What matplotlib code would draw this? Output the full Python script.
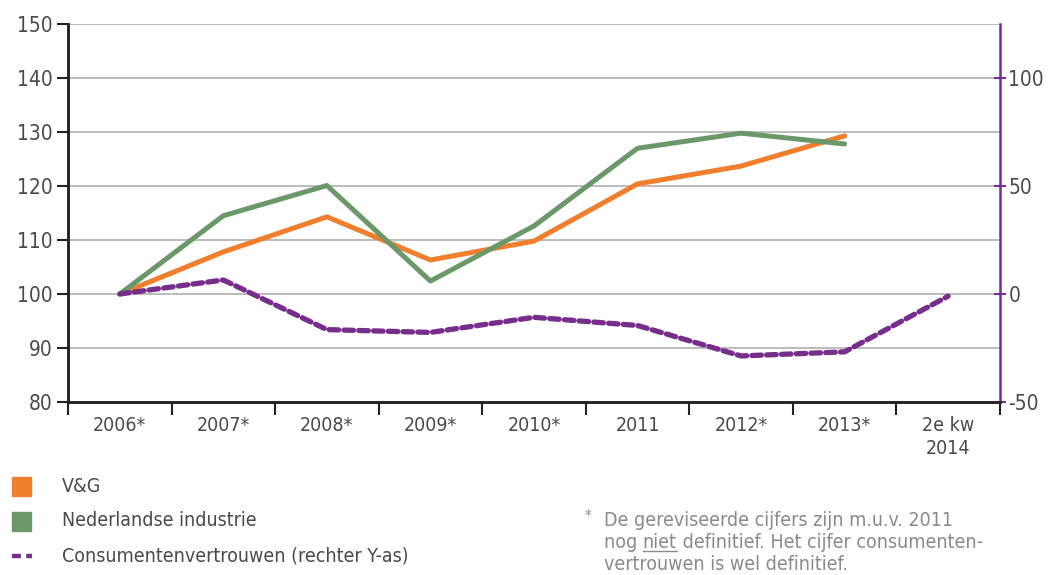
import matplotlib.pyplot as plt
from matplotlib.lines import Line2D
from matplotlib.patches import Rectangle
from matplotlib.ticker import FixedLocator, NullFormatter

plt.rcParams['font.family'] = ['DejaVu Sans']
plt.rcParams['font.stretch'] = 'condensed'
plt.rcParams['axes.unicode_minus'] = False

categories = ['2006*', '2007*', '2008*', '2009*', '2010*', '2011', '2012*', '2013*', '2e kw\n2014']
vg = [100, 107.8, 114.3, 106.3, 109.8, 120.4, 123.7, 129.3]
industrie = [100, 114.5, 120.1, 102.4, 112.6, 127.0, 129.8, 127.8]
consument = [0, 6.5, -16.5, -17.8, -10.8, -14.6, -28.7, -26.8, -1]

orange = '#ef7f2d'
green = '#6a9868'
purple = '#772d8b'
txt = '#4a4a4a'
note = '#8a8a8a'

fig = plt.figure(figsize=(10.53, 5.75), dpi=100)
ax = fig.add_axes([0.0646, 0.301, 0.885, 0.657])
ax2 = ax.twinx()

x = list(range(len(categories)))
ax.plot(x[:len(vg)], vg, color=orange, lw=3.6, solid_capstyle='round', solid_joinstyle='round', zorder=3)
ax.plot(x[:len(industrie)], industrie, color=green, lw=3.6, solid_capstyle='round', solid_joinstyle='round', zorder=3)
ax2.plot(x, consument, color=purple, lw=3.8, ls=(0, (1.8, 1.0)), dash_capstyle='round', solid_joinstyle='round')

ax.set_xlim(-0.5, len(categories) - 0.5)
ax.set_ylim(80, 150)
ax.set_yticks(range(80, 151, 10))
ax.yaxis.grid(True, color='#b0b0b0', lw=1.2)
ax.set_axisbelow(True)
ax2.set_ylim(-50, 125)
ax2.set_yticks([-50, 0, 50, 100])

ax.set_xticks(x)
ax.set_xticklabels(categories, fontsize=14, color=txt, va='top', linespacing=1.25)
ax.tick_params(axis='x', which='major', length=0, pad=10)
ax.xaxis.set_minor_locator(FixedLocator([i - 0.5 for i in range(len(categories) + 1)]))
ax.xaxis.set_minor_formatter(NullFormatter())
ax.tick_params(axis='x', which='minor', length=9, width=1.5, color='#222222', direction='out')
ax.tick_params(axis='y', length=8, width=1.5, color='#222222', labelsize=15, labelcolor=txt, pad=3)
ax2.tick_params(axis='y', length=8, width=1.5, color=purple, labelsize=15, labelcolor=txt, pad=2, direction='inout')

for a in (ax, ax2):
    a.spines['top'].set_visible(False)
    a.spines['left'].set_linewidth(1.8)
    a.spines['bottom'].set_linewidth(1.8)
    a.spines['left'].set_color('#222222')
    a.spines['bottom'].set_color('#222222')
ax.spines['right'].set_visible(False)
ax2.spines['right'].set_color(purple)
ax2.spines['right'].set_linewidth(1.8)

# legend
fig.patches.append(Rectangle((12 / 1053, 1 - 496 / 575), 19 / 1053, 19 / 575, transform=fig.transFigure, color=orange))
fig.patches.append(Rectangle((12 / 1053, 1 - 531 / 575), 19 / 1053, 19 / 575, transform=fig.transFigure, color=green))
fig.lines.append(Line2D([12 / 1053, 32 / 1053], [1 - 556 / 575] * 2, transform=fig.transFigure,
                        color=purple, lw=3.2, ls=(0, (2.0, 1.2))))
fig.text(62 / 1053, 1 - 486 / 575, 'V&G', fontsize=14, color=txt, va='center')
fig.text(62 / 1053, 1 - 521 / 575, 'Nederlandse industrie', fontsize=14, color=txt, va='center')
fig.text(62 / 1053, 1 - 556 / 575, 'Consumentenvertrouwen (rechter Y-as)', fontsize=14, color=txt, va='center')

# footnote
fig.text(585 / 1053, 1 - 516 / 575, '*', fontsize=11, color=note, va='center')
fig.text(604 / 1053, 1 - 521 / 575, 'De gereviseerde cijfers zijn m.u.v. 2011', fontsize=14, color=note, va='center')
t1 = fig.text(604 / 1053, 1 - 543 / 575, 'nog ', fontsize=14, color=note, va='center')
fig.canvas.draw()
r = fig.canvas.get_renderer()
bb = t1.get_window_extent(r)
x2 = bb.x1 / fig.bbox.width
t2 = fig.text(x2, 1 - 543 / 575, 'niet', fontsize=14, color=note, va='center')
bb2 = t2.get_window_extent(r)
x3 = bb2.x1 / fig.bbox.width
fig.lines.append(Line2D([x2, x3], [bb2.y0 / fig.bbox.height + 0.002] * 2, transform=fig.transFigure, color=note, lw=1))
fig.text(x3, 1 - 543 / 575, ' definitief. Het cijfer consumenten-', fontsize=14, color=note, va='center')
fig.text(604 / 1053, 1 - 564 / 575, 'vertrouwen is wel definitief.', fontsize=14, color=note, va='center')

fig.savefig('out.png', dpi=100)
